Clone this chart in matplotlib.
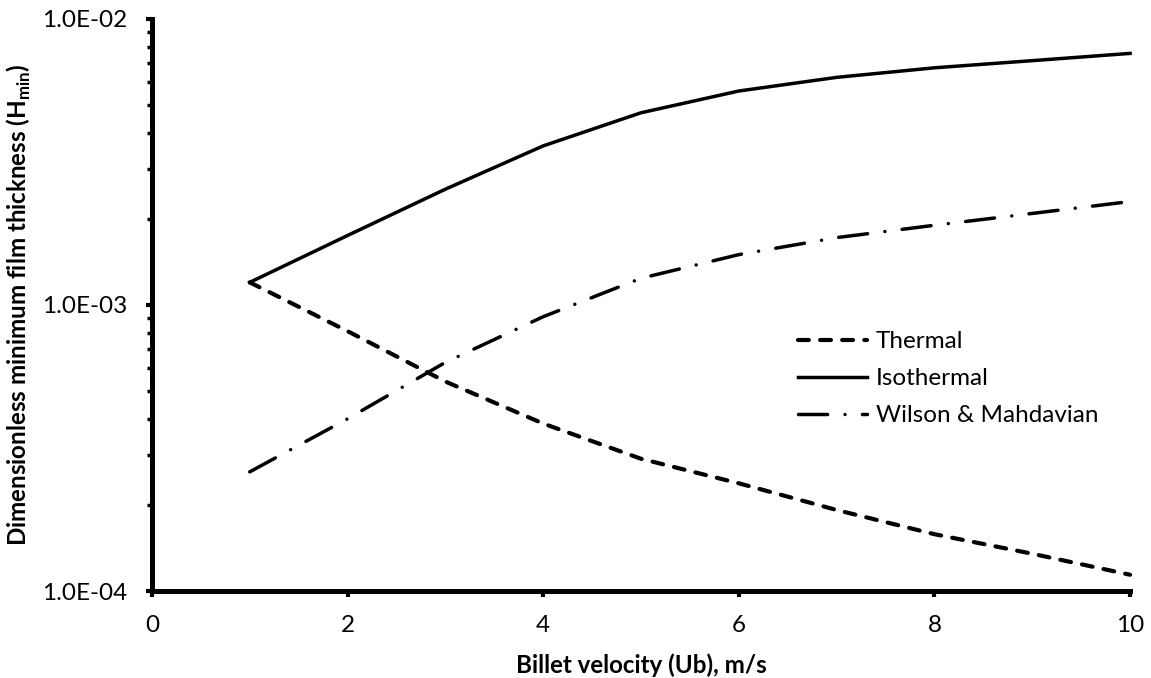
import matplotlib
matplotlib.use("Agg")
import matplotlib.pyplot as plt
from matplotlib.ticker import FuncFormatter, LogLocator, NullFormatter

plt.rcParams['font.family'] = ['Lato', 'DejaVu Sans']
plt.rcParams['mathtext.fontset'] = 'custom'
plt.rcParams['mathtext.rm'] = 'Lato'
plt.rcParams['mathtext.bf'] = 'Lato:bold'

# values
velocity = [1, 2, 3, 4, 5, 6, 7, 8, 9, 10]
thermal = [1.2e-3, 8.1e-4, 5.4e-4, 3.85e-4, 2.9e-4, 2.38e-4, 1.92e-4, 1.58e-4, 1.35e-4, 1.14e-4]
isothermal = [1.2e-3, 1.75e-3, 2.54e-3, 3.6e-3, 4.7e-3, 5.6e-3, 6.25e-3, 6.75e-3, 7.15e-3, 7.58e-3]
wilson = [2.61e-4, 4.0e-4, 6.3e-4, 9.1e-4, 1.24e-3, 1.5e-3, 1.72e-3, 1.9e-3, 2.09e-3, 2.3e-3]

x_ticks = [0, 2, 4, 6, 8, 10]

fig = plt.figure(figsize=(11.51, 6.78), dpi=100)
ax = fig.add_axes([0.132, 0.1283, 0.8498, 0.8437])

ax.plot(velocity, thermal, color='black', lw=3.0, dashes=(2.6, 2.7),
        dash_capstyle='round', label='Thermal', clip_on=False)
ax.plot(velocity, isothermal, color='black', lw=2.5, label='Isothermal',
        clip_on=False)
ax.plot(velocity, wilson, color='black', lw=2.5, dashes=(8.4, 5, 0.01, 5),
        dash_capstyle='round', label='Wilson & Mahdavian', clip_on=False)

ax.set_yscale('log')
ax.set_ylim(1e-4, 1e-2)
ax.set_xlim(0, 10)
ax.set_xticks(x_ticks)
ax.yaxis.set_major_locator(LogLocator(base=10, numticks=5))
ax.yaxis.set_minor_locator(LogLocator(base=10, subs=range(2, 10), numticks=20))
ax.yaxis.set_minor_formatter(NullFormatter())
ax.yaxis.set_major_formatter(FuncFormatter(lambda v, p: f"{v:.1E}"))

for s in ['top', 'right']:
    ax.spines[s].set_visible(False)
for s in ['left', 'bottom']:
    ax.spines[s].set_linewidth(3.6)

ax.tick_params(axis='both', which='major', direction='out', length=4.5,
               width=3.0, labelsize=17.5, pad=13)
ax.tick_params(axis='y', which='minor', direction='out', length=3.5, width=2.5)

ax.set_xlabel('Billet velocity (Ub), m/s', fontsize=17.4, fontweight='bold',
              labelpad=12)
ax.set_ylabel(r'Dimensionless minimum film thickness (H$_\mathbf{min}$)',
              fontsize=17.4, fontweight='bold', labelpad=7)

ax.legend(loc='center left', bbox_to_anchor=(0.6605, 0.371), frameon=False,
          fontsize=17.5, handlelength=2.84, handletextpad=0.37,
          labelspacing=0.66, borderpad=0, borderaxespad=0)

fig.savefig('out.png', dpi=100)
